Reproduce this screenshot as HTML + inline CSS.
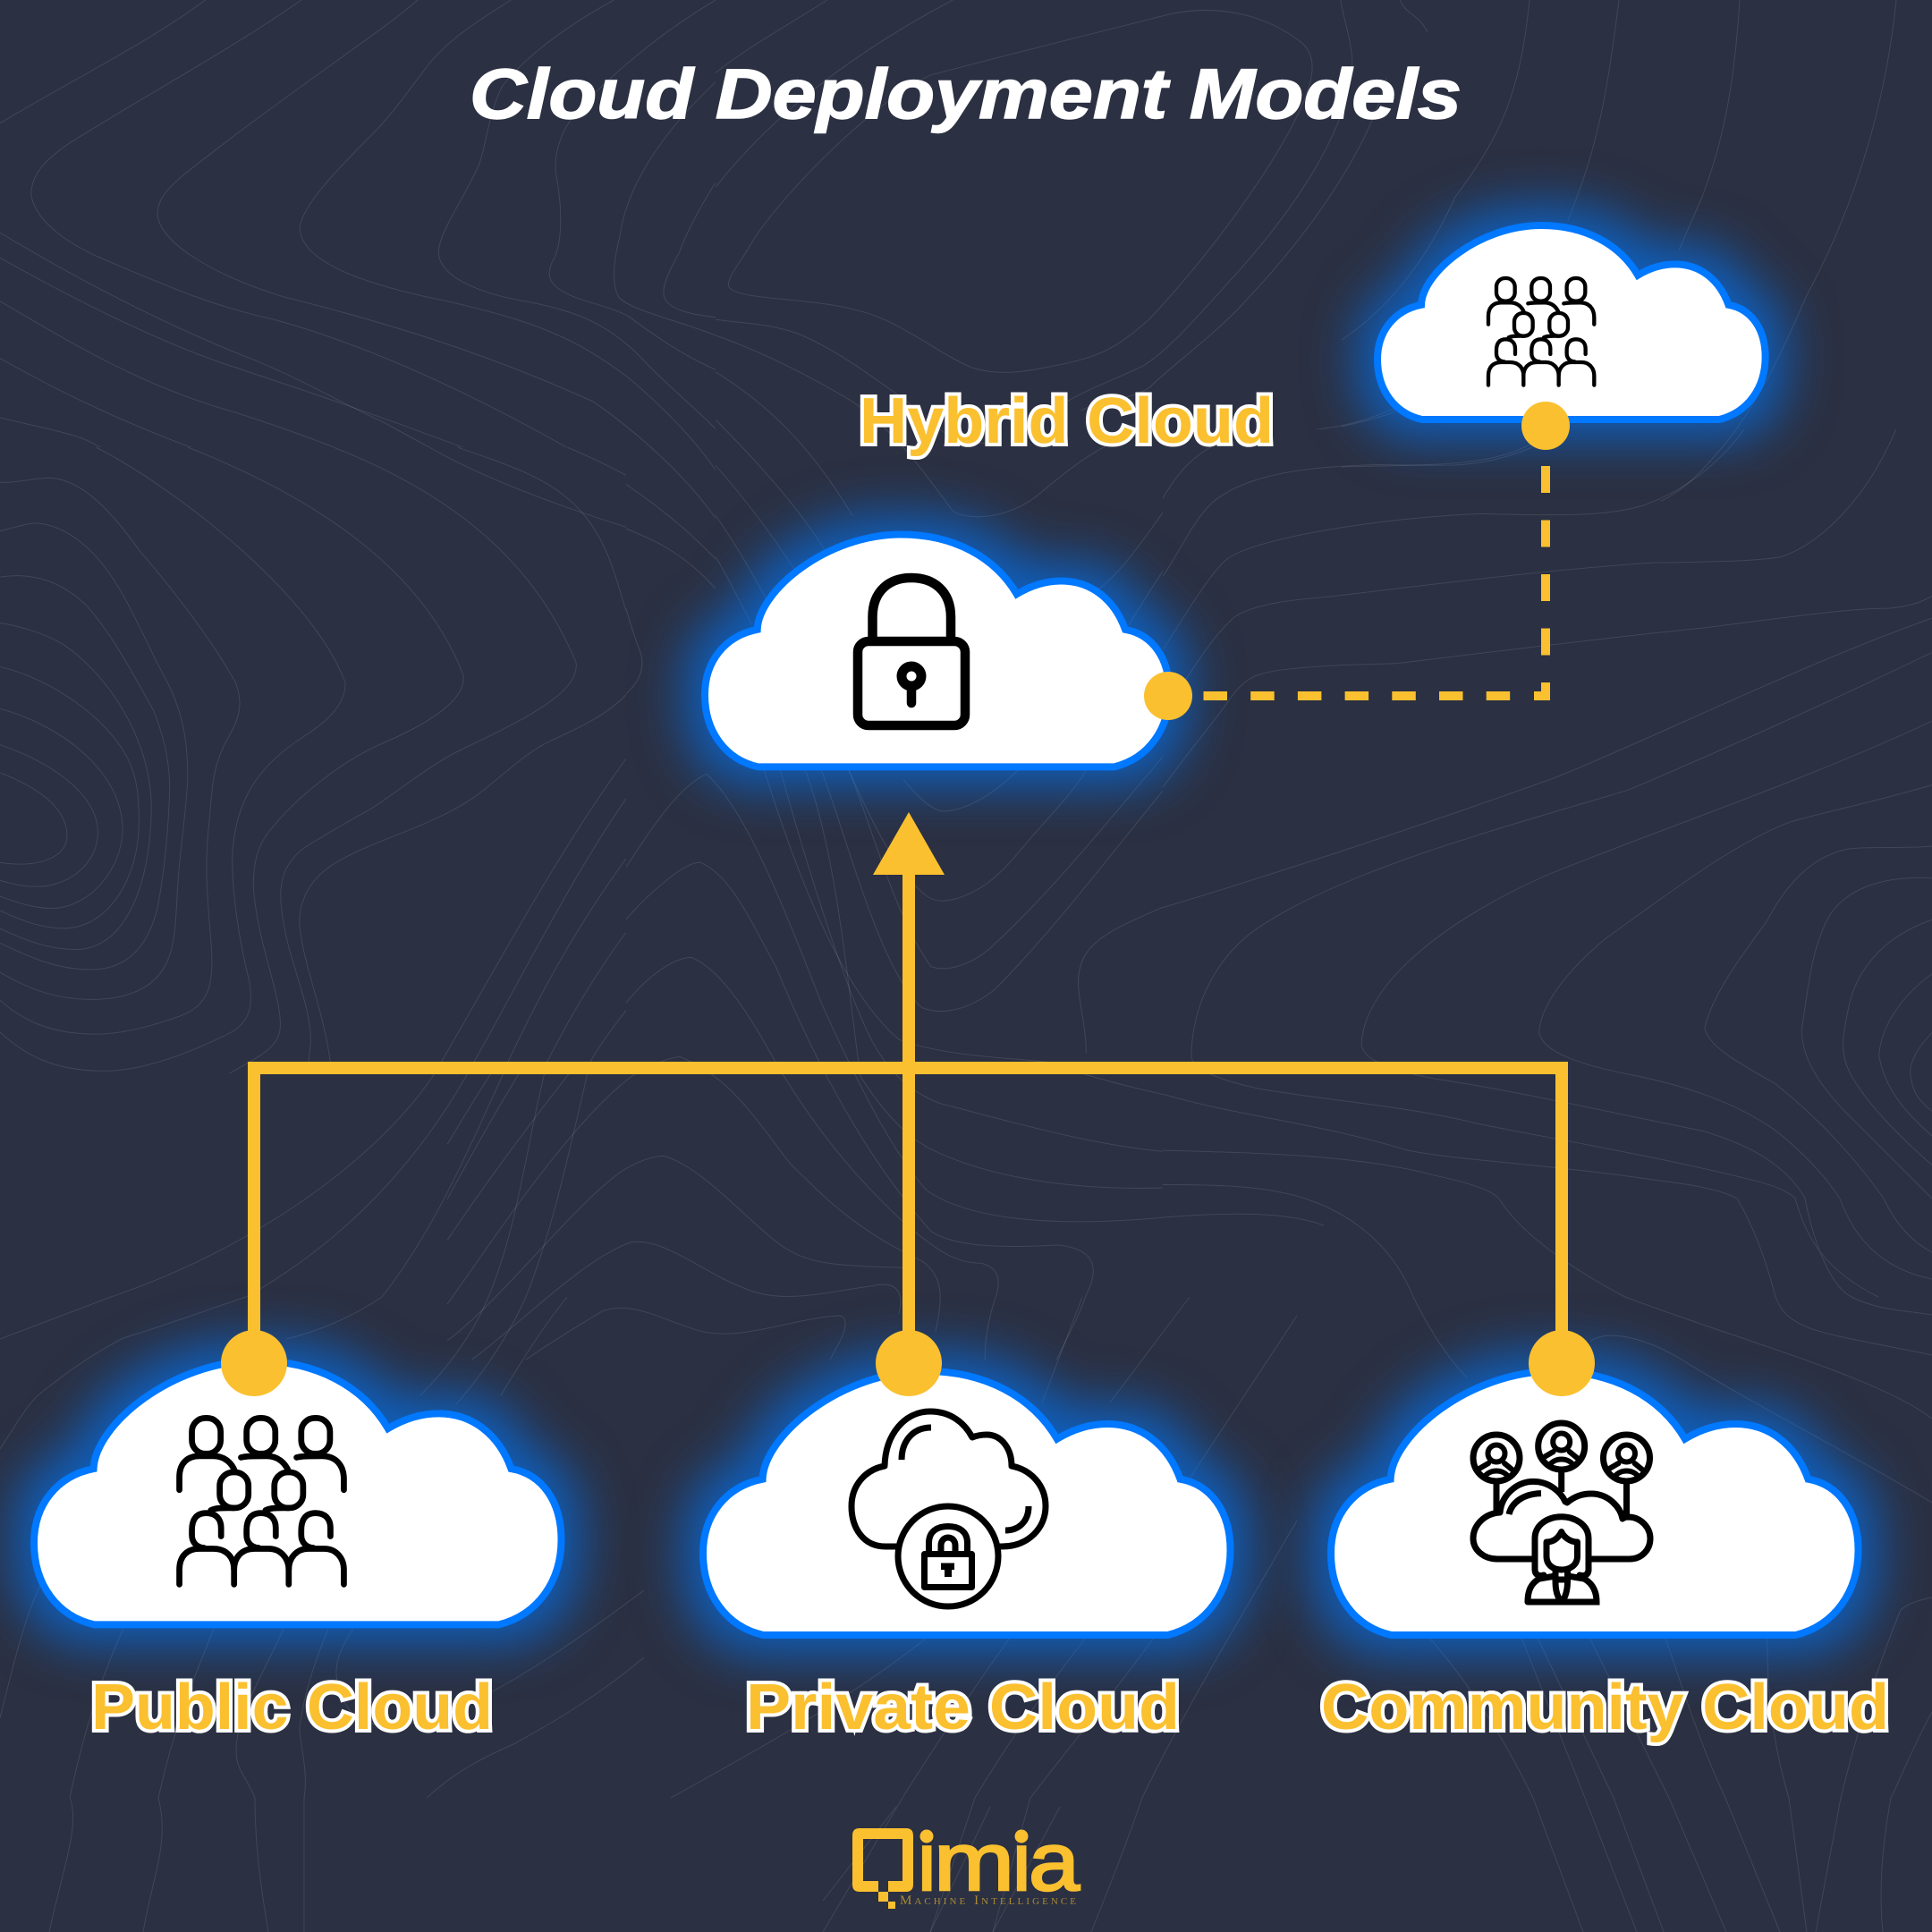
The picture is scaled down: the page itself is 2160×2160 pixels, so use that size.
<!DOCTYPE html>
<html><head><meta charset="utf-8"><title>Cloud Deployment Models</title>
<style>
html,body{margin:0;padding:0;background:#2b3042}
svg{display:block}
.ct path{fill:none;stroke:#fff;stroke-opacity:.11}
.ic{fill:none;stroke:#000;stroke-linecap:round;stroke-linejoin:round}
.lb{font-family:"Liberation Sans",sans-serif;font-weight:700;font-size:72px;fill:#fbc02f;stroke:#fff;stroke-width:8px;paint-order:stroke;stroke-linejoin:miter}
</style></head><body>
<svg width="2160" height="2160" viewBox="0 0 2160 2160" xmlns="http://www.w3.org/2000/svg">
<defs>
<path id="c" d="M67.5 295L519.7 295C563.3 284 589.5 246.5 589.5 200C589.5 157.2 568 126.8 533.5 120.7C519.7 82.2 489.9 59 452.3 59C430.2 59 411.8 66.1 395.8 75.7C368.2 28.6 315.4 0 248.9 0C154.7 0 68.4 71.5 66.6 120.7C26.2 128.6 0 160.7 0 203.6C0 250 26.2 285.7 67.5 295Z" fill="#fff" stroke="#0078ff" stroke-miterlimit="6"/>
<filter id="glow" filterUnits="userSpaceOnUse" x="0" y="0" width="2160" height="2160" color-interpolation-filters="sRGB">
<feMorphology in="SourceAlpha" operator="dilate" radius="18" result="d"/>
<feGaussianBlur in="d" stdDeviation="28" result="b"/>
<feFlood flood-color="#0078ff" flood-opacity=".64"/>
<feComposite in2="b" operator="in" result="s"/>
<feMerge><feMergeNode in="s"/><feMergeNode in="SourceGraphic"/></feMerge>
</filter>
<clipPath id="k10"><rect x="0" y="0" width="800" height="500"/><rect x="700" y="500" width="100" height="300"/></clipPath>
<clipPath id="k8"><rect x="0" y="500" width="700" height="700"/></clipPath>
<clipPath id="k12"><rect x="800" y="0" width="500" height="800"/><rect x="1300" y="0" width="300" height="480"/></clipPath>
<clipPath id="k9"><rect x="1300" y="480" width="860" height="860"/></clipPath>
<clipPath id="k11"><rect x="700" y="800" width="600" height="720"/><rect x="500" y="1200" width="200" height="320"/></clipPath>
<clipPath id="lg"><rect x="1000" y="2061" width="240" height="70"/></clipPath>
<g id="people">
<rect x="519" y="273" width="62" height="77" rx="29"/><rect x="637" y="273" width="62" height="77" rx="29"/><rect x="755" y="273" width="62" height="77" rx="29"/>
<path d="M492 428V400C492 370 510 355 535 355H565C590 355 605 370 612 388"/>
<path d="M625 358C635 355 650 355 680 355C705 355 720 370 728 388"/>
<path d="M745 358C755 355 770 355 800 355C830 355 847 375 847 405V428"/>
<rect x="579" y="390" width="62" height="77" rx="29"/><rect x="697" y="390" width="62" height="77" rx="29"/>
<path d="M560 472C572 466 590 467 610 467"/><path d="M678 472C690 466 708 467 728 467"/>
<path d="M582 528V510C582 490 570 478 550 478C530 478 519 490 519 515V525C519 540 528 552 545 553"/>
<path d="M700 528V510C700 490 688 478 668 478C648 478 637 490 637 515V525C637 540 646 552 663 553"/>
<path d="M818 528V510C818 490 806 478 786 478C766 478 755 490 755 515V525C755 540 764 552 781 553"/>
<path d="M492 632V600C492 570 510 555 535 555H565C595 555 610 575 610 600V632"/>
<path d="M610 600C610 575 625 555 655 555H685C710 555 728 575 728 600V632"/>
<path d="M728 600C728 575 745 555 770 555H805C830 555 847 575 847 600V632"/>
</g>
<g id="avatar">
<circle cx="0" cy="0" r="26"/>
<circle cx="0" cy="-5" r="9.5" stroke-width="6"/>
<path d="M-21 13L-9 6M9 6L20 15" stroke-width="6"/>
<path d="M-14 22C-8 12 8 12 14 22" stroke-width="6"/>
</g>
</defs>

<rect width="2160" height="2160" fill="#2b3042"/>

<!-- contour lines -->
<g class="ct">
<g clip-path="url(#k10)"><g transform="scale(.5102)" stroke-width="2">
<path d="M0 270C150 180 330 90 450 0"/>
<path d="M660 0C520 100 300 220 150 315C100 350 70 380 68 425C75 480 140 530 220 565C350 620 460 670 600 700C800 755 1000 850 1150 930C1300 1010 1450 1100 1568 1225"/>
<path d="M915 0C850 60 620 210 400 385C360 420 345 440 345 470C350 530 460 600 620 650C900 720 1100 790 1300 880C1400 950 1500 1040 1568 1135"/>
<path d="M1120 0C1040 50 980 90 940 140C880 220 850 260 820 290C750 360 660 450 657 500C660 570 780 620 980 660C1150 700 1250 730 1380 830C1450 890 1520 960 1568 1030"/>
<path d="M1345 0C1200 80 1130 150 1100 190C1070 250 1065 320 1050 360C1020 430 960 510 961 555C965 610 1060 645 1150 660C1260 680 1340 710 1420 800C1480 860 1530 900 1568 940"/>
<path d="M1568 0C1450 70 1330 170 1260 250C1220 300 1215 350 1218 380C1230 440 1235 520 1215 565C1200 590 1200 610 1215 625C1250 660 1330 665 1380 695C1440 740 1500 780 1568 810"/>
<path d="M1568 180C1440 300 1370 420 1358 520C1345 570 1340 620 1355 650C1380 680 1480 700 1568 735"/>
<path d="M1568 400C1530 460 1500 520 1490 550C1470 590 1450 620 1455 650C1465 680 1520 690 1568 695"/>
<path d="M0 510C200 630 380 720 560 790C680 840 760 890 840 925C950 985 1040 1040 1270 1120C1400 1170 1480 1190 1568 1290"/>
<path d="M0 565C170 660 350 750 500 800C650 850 800 900 1000 975C1120 1020 1230 1080 1280 1130C1350 1200 1360 1320 1400 1420C1420 1470 1400 1510 1310 1568"/>
<path d="M0 660C170 760 320 850 520 905C720 970 900 1040 1040 1140C1150 1230 1220 1360 1262 1450C1270 1500 1220 1530 1160 1568"/>
<path d="M0 785C150 870 300 940 500 1010C700 1100 850 1210 950 1340C990 1400 1010 1450 1015 1485C1015 1520 990 1540 950 1568"/>
<path d="M0 915C100 940 170 950 210 975C400 1070 690 1280 755 1480C765 1530 740 1550 720 1568"/>
</g></g>
<g clip-path="url(#k8)"><g transform="translate(0,500) scale(.4464)" stroke-width="2.24">
<path d="M0 815C90 850 165 900 168 970C170 1030 90 1055 0 1040"/>
<path d="M0 745C130 790 245 870 245 965C245 1050 160 1105 85 1100C50 1100 20 1090 0 1085"/>
<path d="M0 655C150 695 305 810 307 955C307 1060 220 1155 130 1155C80 1155 30 1135 0 1125"/>
<path d="M0 550C130 580 270 680 320 780C345 830 348 880 348 940C348 1080 270 1205 160 1205C100 1205 40 1180 0 1160"/>
<path d="M0 440C60 450 120 470 160 495C270 570 378 730 379 900C379 1080 320 1258 190 1258C120 1258 50 1230 0 1205"/>
<path d="M0 325C100 310 170 350 220 400C290 480 350 600 385 660C420 750 425 810 425 860C420 1000 405 1100 395 1150C370 1260 310 1308 230 1308C140 1310 60 1270 0 1242"/>
<path d="M0 210C40 200 70 190 90 190C170 195 240 260 290 340C340 420 380 520 420 590C465 680 470 760 470 830C465 930 450 1010 445 1100C440 1180 440 1240 420 1285C385 1370 290 1383 230 1383C130 1383 60 1350 0 1315"/>
<path d="M0 88C50 90 90 75 130 77C220 85 300 190 350 260C420 340 530 480 590 590C610 640 600 680 570 730C530 800 530 870 525 930C510 1050 520 1130 530 1260C535 1350 520 1400 450 1425C350 1460 290 1470 240 1470C120 1470 50 1430 0 1385"/>
<path d="M240 0C420 90 780 360 865 590C865 640 830 680 760 725C660 790 590 870 582 1020C580 1120 600 1240 625 1340C635 1410 620 1440 580 1465C450 1530 340 1565 250 1562C130 1560 60 1520 0 1465"/>
<path d="M470 0C800 130 1060 310 1160 570C1170 630 1080 690 950 745C850 790 740 880 680 955C630 1010 630 1090 640 1150C655 1260 700 1370 702 1440C705 1500 660 1520 575 1568"/>
<path d="M835 0C1140 120 1340 290 1443 540C1450 610 1340 670 1150 760C1070 800 1000 860 930 905C850 950 790 985 760 1005C700 1050 695 1110 710 1190C725 1290 780 1400 778 1490C775 1530 770 1550 770 1568"/>
<path d="M1075 0C1180 60 1330 125 1568 200"/>
<path d="M1145 0C1290 50 1380 80 1450 155C1520 230 1540 320 1568 410"/>
<path d="M1568 620C1510 680 1430 710 1360 745C1300 780 1250 830 1190 875C1080 950 950 980 860 1030C780 1070 750 1130 750 1190C755 1290 820 1430 830 1568"/>
<path d="M1420 0C1470 20 1520 45 1568 70"/>
<path d="M1105 1540C1250 1290 1400 1010 1568 780"/>
<path d="M1187 1540C1300 1340 1430 1080 1568 880"/>
<path d="M1272 1540C1370 1330 1460 1180 1568 1030"/>
<path d="M1370 1540C1420 1440 1490 1320 1568 1215"/>
<path d="M1478 1540C1500 1500 1530 1460 1568 1410"/>
</g></g>
<g clip-path="url(#k12)"><g transform="translate(800,0) scale(.5102)" stroke-width="2">
<path d="M30 630C20 610 60 570 80 530C150 420 350 220 470 165C600 130 800 80 1000 30C1100 10 1200 30 1280 90C1320 120 1310 170 1290 220C1240 340 1100 540 950 700C880 760 850 780 750 800C680 815 620 825 560 805C480 770 400 700 310 680C200 650 60 660 30 630Z"/>
<path d="M245 0C150 60 60 110 0 160"/>
<path d="M520 0C350 90 150 220 0 410"/>
<path d="M1370 0C1375 40 1395 90 1395 140C1390 260 1300 420 1150 590C1050 700 1000 760 940 800C880 830 820 850 770 880"/>
<path d="M1500 0C1510 30 1540 30 1560 70"/>
<path d="M1470 170C1440 300 1330 480 1170 650C1100 730 1000 800 950 850C900 880 860 870 800 900"/>
<path d="M0 700C70 710 130 710 190 735C270 770 350 830 420 880C460 920 520 980 600 970"/>
<path d="M0 735C100 770 200 820 300 880C400 950 460 1040 520 1120C550 1140 630 1140 700 1090C760 1040 830 980 900 960"/>
<path d="M0 815C120 890 210 980 300 1130"/>
<path d="M0 920C90 1010 200 1130 260 1240"/>
<path d="M0 1020C80 1110 150 1210 200 1290"/>
<path d="M0 1130C50 1200 100 1290 130 1350"/>
<path d="M0 1220C30 1270 60 1330 80 1370"/>
<path d="M1040 1030C1010 1080 900 1250 840 1290"/>
<path d="M1568 1020C1400 1020 1150 1040 1060 1130C1020 1190 960 1280 905 1370"/>
<path d="M1568 1135C1400 1150 1180 1180 1110 1250C1060 1320 1020 1390 980 1445"/>
<path d="M1568 1285C1400 1300 1240 1310 1160 1350C1110 1390 1080 1450 1040 1500"/>
<path d="M1240 945C1350 945 1420 925 1500 890"/>
</g></g>
<g clip-path="url(#k9)"><g transform="translate(1300,480) scale(.5484)" stroke-width="1.82">
<path d="M0 140C30 90 60 50 130 20"/>
<path d="M0 300C40 240 60 190 100 150C170 90 300 75 440 72C560 75 680 70 750 30"/>
<path d="M0 450C50 370 100 290 130 265C190 220 450 180 650 172C780 175 900 180 980 155C1080 120 1150 50 1185 0"/>
<path d="M0 730C50 660 110 590 140 545C170 505 190 500 230 492C320 480 400 480 480 477C700 450 950 420 1100 405C1300 380 1400 365 1480 365C1530 360 1550 350 1568 340"/>
<path d="M0 590C50 500 110 410 150 380C200 350 300 345 350 340C600 310 800 285 1000 272C1100 270 1200 270 1260 260C1350 230 1440 130 1495 0"/>
<path d="M0 975C250 900 550 800 800 710C1000 630 1300 480 1568 385"/>
<path d="M1568 455C1350 560 1150 650 950 735C700 810 400 890 220 1000C130 1050 60 1150 58 1280C65 1310 130 1330 200 1345C350 1370 500 1380 640 1415C760 1440 1000 1480 1200 1530C1240 1540 1270 1550 1290 1568"/>
<path d="M1568 595C1300 720 1000 820 780 910C600 990 410 1120 405 1255C410 1290 480 1310 560 1325C700 1345 900 1390 1100 1430C1200 1460 1270 1500 1310 1568"/>
<path d="M1568 725C1450 760 1350 780 1280 800C1150 850 1000 970 900 1040C830 1100 770 1170 767 1230C775 1270 850 1295 950 1315C1080 1340 1180 1380 1250 1430C1300 1470 1350 1520 1380 1568"/>
<path d="M1568 850C1500 855 1450 850 1400 855C1320 870 1270 930 1230 1005C1190 1060 1120 1150 1105 1220C1110 1260 1190 1300 1250 1335C1330 1400 1400 1470 1470 1568"/>
<path d="M1568 915C1480 910 1400 930 1360 990C1320 1060 1315 1150 1303 1220C1300 1280 1340 1340 1400 1400C1450 1450 1500 1500 1568 1568"/>
<path d="M1568 1000C1480 1030 1420 1090 1400 1170C1385 1240 1380 1270 1400 1310C1430 1370 1500 1440 1568 1500"/>
<path d="M1568 1110C1500 1160 1465 1220 1460 1275C1470 1340 1510 1390 1568 1440"/>
<path d="M1568 1230C1530 1270 1520 1300 1525 1320C1530 1360 1550 1375 1568 1390"/>
<path d="M0 1355C150 1400 300 1410 500 1470C600 1490 800 1500 1000 1530C1080 1540 1140 1550 1170 1568"/>
<path d="M0 1470C200 1475 400 1480 550 1520C620 1535 670 1550 685 1568"/>
<path d="M0 1540C100 1540 200 1540 290 1568"/>
</g></g>
<g clip-path="url(#k11)"><g transform="translate(500,800) scale(.5102)" stroke-width="2">
<path d="M695 120C760 330 860 600 990 710C1100 750 1250 750 1320 760C1400 790 1500 815 1568 830"/>
<path d="M730 120C780 300 860 560 915 680C950 760 1000 820 1080 850C1200 880 1400 940 1568 955"/>
<path d="M820 120C880 280 950 560 1040 640C1090 660 1150 640 1200 600C1320 480 1450 310 1568 165"/>
<path d="M880 120C930 240 980 440 1060 550C1100 565 1160 540 1200 500C1320 390 1450 230 1568 90"/>
<path d="M785 120C850 300 870 520 905 790C950 860 1000 920 1060 950C1200 1020 1400 1040 1568 1035"/>
<path d="M0 940C130 720 260 540 380 350C440 260 500 160 568 128C650 200 730 400 820 630C860 720 960 940 1050 1040C1150 1110 1350 1120 1568 1100"/>
<path d="M0 1060C130 820 330 480 470 370C510 335 540 320 555 322C620 350 660 440 720 550C790 720 900 950 1060 1130C1120 1170 1250 1165 1340 1160C1420 1170 1430 1210 1400 1270C1370 1360 1300 1450 1300 1530"/>
<path d="M0 1150C100 1000 250 800 400 620C460 550 510 530 535 530C610 560 680 690 720 760C790 880 880 1000 1000 1110C1080 1180 1120 1200 1170 1200C1210 1210 1215 1240 1200 1280C1180 1340 1175 1400 1180 1450"/>
<path d="M0 1290C80 1180 280 870 420 780C460 760 490 748 510 748C620 790 680 890 750 980C830 1060 900 1130 1040 1195C1090 1230 1085 1280 1070 1350"/>
<path d="M0 1370C120 1280 270 1080 380 1000C420 975 450 965 475 965C560 990 650 1100 730 1160C790 1200 830 1205 1000 1210"/>
<path d="M0 1450C150 1350 280 1200 400 1155C470 1140 560 1220 640 1250C720 1290 800 1270 940 1248C990 1240 1000 1270 990 1310"/>
<path d="M10 1560C100 1450 200 1390 340 1305C410 1280 480 1330 560 1350C650 1370 760 1320 860 1315C880 1320 875 1350 850 1390C820 1450 800 1480 780 1520"/>
<path d="M1568 420C1500 450 1420 480 1395 530C1365 590 1400 650 1400 740"/>
<path d="M1000 140C1040 190 1070 210 1090 210C1150 205 1210 160 1250 120"/>
<path d="M880 120C930 230 980 340 1050 395C1070 410 1090 408 1120 400C1180 380 1220 340 1260 290C1320 220 1370 170 1400 120"/>
</g></g>
<g stroke-width="1">
<path d="M0 1497L124 1450C300 1390 440 1280 494 1187M0 1620C20 1590 30 1570 46 1557C80 1530 110 1510 138 1496C190 1480 230 1465 275 1450C400 1380 480 1280 530 1187"/>
<path d="M569 1187C530 1270 490 1370 427 1450C390 1475 350 1490 320 1497M612 1187C590 1270 580 1370 546 1450C530 1490 500 1530 470 1560M660 1187C640 1270 620 1370 588 1450C570 1490 545 1530 510 1570M634 1450C610 1480 590 1510 560 1560"/>
<path d="M0 1921C15 1860 30 1800 46 1771M78 2010C95 1930 115 1870 138 1821M177 2010C195 1930 215 1880 239 1821M317 1821C290 1880 264 1920 264 1957C264 1980 275 1985 285 2010M340 2010C345 1980 335 1950 335 1932C340 1890 355 1850 367 1821M395 1821C375 1850 372 1870 380 1890C390 1925 420 1945 505 1914C580 1880 650 1830 720 1778M477 2010C510 1980 540 1965 574 1950C620 1925 670 1895 720 1853"/>
<path d="M55 2160C70 2090 90 2040 78 2010M160 2160C170 2100 190 2060 177 2010M285 2010C285 2060 290 2100 300 2160M340 2010V2160"/>
<path d="M920 2125L1002 2020M1040 2160L1107 2020M1110 2160L1185 2020"/>
<path d="M1210 1450L1165 1568M1330 1450L1241 1568M1450 1471L1330 1653M1129 1831C1080 1900 1040 1960 1009 2010M1214 1831C1160 1900 1120 1960 1090 2010M1290 1831C1240 1900 1190 1960 1152 2010M1036 1831C950 1900 840 1960 750 2010"/>
<path d="M1009 2010L920 2160M1090 2010L1040 2160M1152 2010L1110 2160M1450 1700C1380 1820 1320 1920 1277 2010C1260 2060 1240 2110 1220 2160"/>
<path d="M1300 1361C1380 1355 1440 1355 1480 1370M1676 1340C1700 1380 1760 1420 1817 1450M1942 1340C1960 1370 1975 1410 1985 1450M2018 1340C2030 1400 2050 1440 2070 1450M2057 1340C2075 1390 2110 1420 2160 1430M2106 1340C2120 1370 2140 1390 2160 1400M1459 1340C1520 1360 1560 1400 1580 1450C1600 1490 1620 1520 1640 1540M2007 1340C2020 1385 2040 1420 2100 1450"/>
<path d="M1817 1450C1950 1500 2100 1540 2160 1586M1985 1450C2000 1490 2040 1490 2160 1515M2070 1450C2100 1465 2130 1465 2160 1470M1778 1500C1790 1488 1830 1490 1880 1520C1960 1570 2060 1620 2160 1680"/>
<path d="M1701 1831L1772 2010L1830 2160M1719 1831L1804 2010L1860 2160M1777 1831L1866 2010L1930 2160M1862 1831C1885 1900 1905 1960 1929 2010L1990 2160M1976 1831C1975 1900 1985 1960 2000 2010L2020 2160M1598 1831C1650 1890 1690 1960 1714 2010L1770 2160"/>
<path d="M2160 1786C2140 1790 2130 1795 2125 1800C2100 1860 2075 1940 2058 2010L2030 2160M2160 1914C2135 1960 2120 2000 2114 2010C2105 2060 2100 2110 2105 2160"/>
<path d="M1500 380C1560 340 1600 280 1627 220C1680 150 1700 100 1710 0M1753 247L1763 220C1790 150 1800 80 1810 0M1877 280L1903 220C1930 150 1940 80 1945 0M2020 330C2080 220 2110 100 2120 0M2020 330C1990 400 1960 460 1923 503C1900 530 1880 550 1857 560M1500 477C1520 472 1540 468 1560 460M1500 522C1540 521 1590 520 1627 520C1660 518 1690 510 1713 500"/>
</g>
</g>

<!-- clouds -->
<g filter="url(#glow)"><use href="#c" transform="translate(38,1521.4)" stroke-width="8"/></g>
<g filter="url(#glow)"><use href="#c" transform="translate(786,1533)" stroke-width="8"/></g>
<g filter="url(#glow)"><use href="#c" transform="translate(1488,1533)" stroke-width="8"/></g>
<g filter="url(#glow)"><use href="#c" transform="translate(788,597.5) scale(.881)" stroke-width="9.08"/></g>
<g filter="url(#glow)"><use href="#c" transform="translate(1540,252) scale(.7356)" stroke-width="10.88"/></g>

<!-- connectors -->
<g fill="#fbc02f">
<rect x="277" y="1187" width="1476" height="14"/>
<rect x="277" y="1187" width="14" height="337"/>
<rect x="1009" y="970" width="14" height="554"/>
<rect x="1739" y="1187" width="14" height="337"/>
<polygon points="1016,908 1056,978 976,978"/>
<circle cx="284" cy="1524" r="37"/><circle cx="1016" cy="1524" r="37"/><circle cx="1746" cy="1524" r="37"/>
<circle cx="1306" cy="778" r="27"/><circle cx="1728" cy="476" r="27"/>
<rect x="1345.5" y="773" width="26.5" height="10"/><rect x="1398.2" y="773" width="26.5" height="10"/><rect x="1450.9" y="773" width="26.5" height="10"/><rect x="1503.6" y="773" width="26.5" height="10"/><rect x="1556.3" y="773" width="26.5" height="10"/><rect x="1609" y="773" width="26.5" height="10"/><rect x="1661.7" y="773" width="26.5" height="10"/><rect x="1715" y="773" width="18" height="10"/>
<rect x="1723" y="521" width="10" height="30"/><rect x="1723" y="581.5" width="10" height="30"/><rect x="1723" y="642" width="10" height="30"/><rect x="1723" y="702.5" width="10" height="30"/><rect x="1723" y="763" width="10" height="20"/>
</g>

<!-- icons -->
<use href="#people" class="ic" transform="translate(1500,220) scale(.3333)" stroke-width="13"/>
<use href="#people" class="ic" transform="translate(-54.3,1444) scale(.518)" stroke-width="13"/>

<!-- big lock -->
<g class="ic" stroke-width="10.5">
<path d="M975.5 712V690C975.5 660 995 646 1019 646C1043 646 1063 660 1063 690V712"/>
<rect x="959" y="717" width="120" height="94" rx="12"/>
<circle cx="1019" cy="756" r="11" stroke-width="11"/>
<path d="M1019 772V786"/>
</g>

<!-- private icon -->
<g class="ic" stroke-width="7">
<path d="M1002 1729H990C965 1729 952 1708 952 1684C952 1660 968 1643 989 1639C990 1603 1012 1578 1040 1578C1062 1578 1078 1590 1087 1607C1092 1605 1098 1604 1103 1604C1120 1604 1131 1620 1131 1639C1152 1643 1169 1660 1169 1684C1169 1708 1150 1729 1120 1729H1118"/>
<path d="M1041 1596C1020 1596 1008 1612 1008 1632" stroke-linecap="butt"/>
<path d="M1150 1684C1150 1700 1140 1711 1124 1711" stroke-linecap="butt"/>
<circle cx="1060" cy="1740" r="56"/>
<path d="M1038.5 1736V1725C1038.5 1712 1048 1706.5 1060 1706.5C1072 1706.5 1081.5 1712 1081.5 1725V1736"/>
<path d="M1052 1736V1728C1052 1722 1056 1719 1060 1719C1064 1719 1068 1722 1068 1728V1736"/>
<rect x="1033.5" y="1737.5" width="53" height="37" stroke-linejoin="round"/>
<path d="M1052 1747.5H1067V1755H1064V1763H1056V1755H1052Z" fill="#000" stroke="none"/>
</g>

<!-- community icon -->
<g class="ic" stroke-width="7">
<use href="#avatar" transform="translate(1673,1630)"/>
<use href="#avatar" transform="translate(1745.7,1617)"/>
<use href="#avatar" transform="translate(1818.5,1630)"/>
<path d="M1673 1659V1690M1745.7 1646V1668M1818.5 1659V1693" stroke-linecap="butt"/>
<path d="M1714.5 1743H1674C1659 1743 1647 1733 1647 1720C1647 1705 1660 1692 1677 1691C1679 1671 1696 1656.4 1714.5 1656.4C1732 1656.4 1745 1668 1750 1679"/>
<path d="M1752 1680C1760 1673 1770 1670 1779 1670C1799 1670 1812 1686 1814 1698C1817 1696 1819 1696 1822 1696C1835 1697 1845 1708 1845 1720C1845 1733 1835 1743 1822 1743H1779"/>
<path d="M1723 1669.6C1703 1670 1690 1680 1687 1693" stroke-linecap="butt"/>
<path d="M1716 1755V1720C1716 1705 1730 1695.7 1745.7 1695.7C1761 1695.7 1776 1705 1776 1720V1755C1776 1760 1772 1763 1766 1761M1716 1755C1716 1760 1720 1763 1726 1761" fill="#fff"/>
<path d="M1729 1724C1738 1724 1743 1718 1745.7 1712.5C1748 1718 1755 1724 1763.5 1724V1740C1763.5 1750 1755 1755 1745.7 1755C1737 1755 1729 1750 1729 1740Z" fill="#fff"/>
<path d="M1739 1757V1768C1739 1778 1741 1786 1746 1791C1750 1786 1752.5 1778 1752.5 1768V1757M1739 1766H1752.5" fill="none"/>
<path d="M1708 1791H1785C1785 1778 1780 1770 1771 1765L1752.5 1762M1708 1791C1708 1778 1712 1770 1721 1765L1739 1762" stroke-linejoin="miter"/>
</g>

<!-- titles -->
<text x="525" y="132" font-family="'Liberation Sans',sans-serif" font-weight="700" font-style="italic" font-size="79" fill="#fff" stroke="#fff" stroke-width="1.5" textLength="1109" lengthAdjust="spacingAndGlyphs">Cloud Deployment Models</text>
<text class="lb" x="961" y="495" textLength="463" lengthAdjust="spacingAndGlyphs">Hybrid Cloud</text>
<text class="lb" x="102" y="1933" textLength="449" lengthAdjust="spacingAndGlyphs">Public Cloud</text>
<text class="lb" x="834" y="1933" textLength="485" lengthAdjust="spacingAndGlyphs">Private Cloud</text>
<text class="lb" x="1477" y="1933" textLength="635" lengthAdjust="spacingAndGlyphs">Community Cloud</text>

<!-- logo -->
<g fill="#fbc02f">
<path fill-rule="evenodd" d="M961 2044H1013Q1021 2044 1021 2052V2107Q1021 2115 1013 2115H993V2103H1009V2056H965V2103H982V2115H961Q953 2115 953 2107V2052Q953 2044 961 2044Z"/>
<rect x="982" y="2115" width="11" height="11"/><rect x="993" y="2126" width="8" height="8"/>
<g clip-path="url(#lg)" font-family="'Liberation Sans',sans-serif" font-size="92" stroke="#fbc02f" stroke-width="2.5">
<text x="1026" y="2113">i</text>
<text x="1044" y="2113" textLength="90" lengthAdjust="spacingAndGlyphs">m</text>
<text x="1132" y="2113">i</text>
<text x="1150" y="2113" textLength="57" lengthAdjust="spacingAndGlyphs">a</text>
</g>
<circle cx="1036" cy="2053" r="7.5"/><circle cx="1142" cy="2053" r="7.5"/>
</g>
<text x="1006" y="2129" font-family="'Liberation Serif',serif" font-size="15" fill="#a98a38" style="font-variant:small-caps" textLength="197" lengthAdjust="spacing">Machine Intelligence</text>
</svg>
</body></html>
